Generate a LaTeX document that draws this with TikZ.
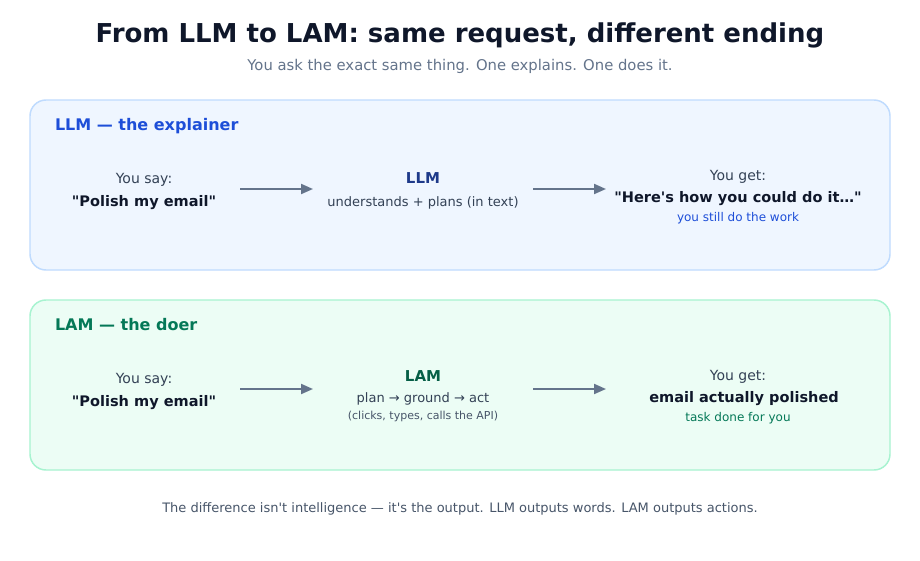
\documentclass[tikz,border=0pt]{standalone}
\usepackage{fontspec}
\setmainfont{DejaVu Sans}
\usetikzlibrary{arrows.meta}
\definecolor{titlec}{HTML}{0F172A}
\definecolor{subc}{HTML}{64748B}
\definecolor{llmfill}{HTML}{EFF6FF}
\definecolor{llmline}{HTML}{BFDBFE}
\definecolor{lamfill}{HTML}{ECFDF5}
\definecolor{lamline}{HTML}{A7F3D0}
\definecolor{blueh}{HTML}{1D4ED8}
\definecolor{bluedk}{HTML}{1E3A8A}
\definecolor{greenh}{HTML}{047857}
\definecolor{greendk}{HTML}{065F46}
\definecolor{bodyc}{HTML}{334155}
\definecolor{notec}{HTML}{475569}
\definecolor{arrowc}{HTML}{64748B}
\newcommand\dqt{\XeTeXglyph\the\XeTeXcharglyph"22\relax}
\newcommand\sqt{\XeTeXglyph\the\XeTeXcharglyph"27\relax}
\tikzset{
  txt/.style={anchor=base, inner sep=0pt, outer sep=0pt},
  panel/.style={rounded corners=12pt, line width=1.1pt},
  flow/.style={draw=arrowc, line width=1.5pt, -{Triangle[length=9pt,width=7.5pt]}},
}
\begin{document}
\begin{tikzpicture}[x=0.75pt,y=-0.75pt]
\useasboundingbox[fill=white] (0,0) rectangle (920,560);
% title
\node[txt, font=\bfseries\fontsize{19.5}{23}\selectfont, text=titlec] (title) at (460,43) {From LLM to LAM: same request, different ending};
\node[txt, font=\fontsize{11.1}{13}\selectfont, text=subc] (sub) at (460,70) {You ask the exact same thing. One explains. One does it.};
% panels
\draw[panel, fill=llmfill, draw=llmline] (30,100) rectangle (890,270);
\draw[panel, fill=lamfill, draw=lamline] (30,300) rectangle (890,470);
% LLM panel
\node[txt, anchor=base west, font=\bfseries\fontsize{12}{14}\selectfont, text=blueh] (h1) at (55,130) {LLM — the explainer};
\node[txt, font=\fontsize{10.5}{13}\selectfont, text=bodyc] (say1) at (144,183) {You say:};
\node[txt, font=\bfseries\fontsize{10.9}{14}\selectfont, text=titlec] (req1) at (144,206) {\dqt Polish my email\dqt};
\node[txt, font=\bfseries\fontsize{11.25}{14}\selectfont, text=bluedk] (llm) at (423,183) {LLM};
\node[txt, font=\fontsize{9.75}{12}\selectfont, text=bodyc] (llmd) at (423,206) {understands + plans (in text)};
\node[txt, font=\fontsize{10.5}{13}\selectfont, text=bodyc] (get1) at (738,180) {You get:};
\node[txt, font=\bfseries\fontsize{10.9}{14}\selectfont, text=titlec] (res1) at (738,202) {\dqt Here\sqt s how you could do it…\dqt};
\node[txt, font=\fontsize{9}{11}\selectfont, text=blueh] (note1) at (738,221) {you still do the work};
\coordinate (a1s) at (240,189);
\coordinate (a1e) at (313,189);
\coordinate (a2s) at (533,189);
\coordinate (a2e) at (606,189);
\draw[flow] (a1s) -- (a1e);
\draw[flow] (a2s) -- (a2e);
% LAM panel
\node[txt, anchor=base west, font=\bfseries\fontsize{12}{14}\selectfont, text=greenh] (h2) at (55,330) {LAM — the doer};
\node[txt, font=\fontsize{10.5}{13}\selectfont, text=bodyc] (say2) at (144,383) {You say:};
\node[txt, font=\bfseries\fontsize{10.9}{14}\selectfont, text=titlec] (req2) at (144,406) {\dqt Polish my email\dqt};
\node[txt, font=\bfseries\fontsize{11.25}{14}\selectfont, text=greendk] (lam) at (423,381) {LAM};
\node[txt, font=\fontsize{9.75}{12}\selectfont, text=bodyc] (lamd) at (423,402) {plan → ground → act};
\node[txt, font=\fontsize{8.25}{10}\selectfont, text=notec] (lamn) at (423,419) {(clicks, types, calls the API)};
\node[txt, font=\fontsize{10.5}{13}\selectfont, text=bodyc] (get2) at (738,380) {You get:};
\node[txt, font=\bfseries\fontsize{10.9}{14}\selectfont, text=titlec] (res2) at (744,402) {email actually polished};
\node[txt, font=\fontsize{9}{11}\selectfont, text=greenh] (note2) at (738,421) {task done for you};
\coordinate (b1s) at (240,389);
\coordinate (b1e) at (313,389);
\coordinate (b2s) at (533,389);
\coordinate (b2e) at (606,389);
\draw[flow] (b1s) -- (b1e);
\draw[flow] (b2s) -- (b2e);
% footer
\node[txt, font=\fontsize{9.75}{12}\selectfont, text=notec] (foot) at (460,512) {The difference isn\sqt t intelligence — it\sqt s the output. LLM outputs words. LAM outputs actions.};
\end{tikzpicture}
\end{document}
